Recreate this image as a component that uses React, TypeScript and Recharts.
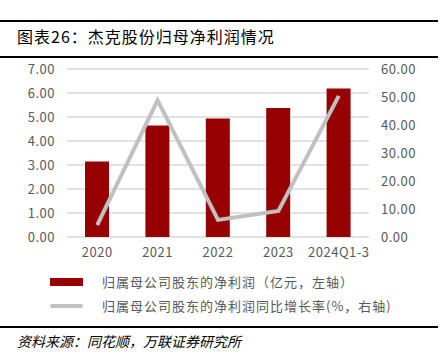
import React from 'react';
import { ComposedChart, Bar, Line, XAxis, YAxis, CartesianGrid } from 'recharts';

const categories = ['2020', '2021', '2022', '2023', '2024Q1-3'];
const netProfit = [3.15, 4.65, 4.94, 5.37, 6.19];
const yoyGrowth = [4.2, 48.8, 6.1, 9.3, 50.4];
const leftTicks = [0, 1, 2, 3, 4, 5, 6, 7];
const rightTicks = [0, 10, 20, 30, 40, 50, 60];

const data = categories.map((label, i) => ({
  label,
  profit: netProfit[i],
  yoy: yoyGrowth[i],
}));

const FONT = '"Noto Sans CJK SC", "Noto Sans", sans-serif';
const tickStyle = { fontSize: 13, fill: '#595959', fontFamily: FONT, letterSpacing: 0.5 };

export default function App() {
  return (
    <div
      style={{
        position: 'absolute',
        left: 0,
        top: 0,
        width: 446,
        height: 355,
        background: '#fff',
        fontFamily: FONT,
        overflow: 'hidden',
      }}
    >
      <div style={{ position: 'absolute', left: 0, top: 20, width: 438, height: 2, background: '#000' }} />
      <div style={{ position: 'absolute', left: 17, top: 24, fontSize: 16, letterSpacing: 1, color: '#000', lineHeight: '24px' }}>
        图表26：杰克股份归母净利润情况
      </div>
      <div style={{ position: 'absolute', left: 0, top: 56, width: 438, height: 2, background: '#000' }} />

      <div style={{ position: 'absolute', left: 0, top: 0 }}>
        <ComposedChart
          width={446}
          height={355}
          data={data}
          margin={{ top: 69, right: 25, bottom: 88, left: 15 }}
          barCategoryGap="10%"
        >
          <CartesianGrid vertical={false} stroke="#d9d9d9" strokeWidth={1.5} yAxisId="left" />
          <XAxis
            dataKey="label"
            axisLine={false}
            tickLine={false}
            tickMargin={5}
            height={30}
            tick={tickStyle}
            interval={0}
          />
          <YAxis
            yAxisId="left"
            domain={[0, 7]}
            ticks={leftTicks}
            width={52}
            axisLine={false}
            tickLine={false}
            tickMargin={6}
            tick={tickStyle}
            tickFormatter={(v: number) => v.toFixed(2)}
          />
          <YAxis
            yAxisId="right"
            orientation="right"
            domain={[0, 60]}
            ticks={rightTicks}
            width={52}
            axisLine={false}
            tickLine={false}
            tickMargin={6}
            tick={tickStyle}
            tickFormatter={(v: number) => v.toFixed(2)}
          />
          <Bar yAxisId="left" dataKey="profit" fill="#960000" barSize={24} isAnimationActive={false} />
          <Line
            yAxisId="right"
            dataKey="yoy"
            stroke="#c0c0c0"
            strokeWidth={4}
            dot={false}
            activeDot={false}
            type="linear"
            isAnimationActive={false}
          />
        </ComposedChart>
      </div>

      <div style={{ position: 'absolute', left: 50, top: 278, width: 33, height: 8, background: '#960000' }} />
      <div
        style={{ position: 'absolute', left: 102, top: 272, fontSize: 13, letterSpacing: 1, color: '#595959', lineHeight: '20px', whiteSpace: 'nowrap' }}
      >
        归属母公司股东的净利润（亿元，左轴）
      </div>
      <div style={{ position: 'absolute', left: 50, top: 304, width: 33, height: 4, borderRadius: 2, background: '#c0c0c0' }} />
      <div
        style={{ position: 'absolute', left: 102, top: 296, fontSize: 13, letterSpacing: 1, color: '#595959', lineHeight: '20px', whiteSpace: 'nowrap' }}
      >
        归属母公司股东的净利润同比增长率(%，右轴)
      </div>

      <div style={{ position: 'absolute', left: 0, top: 326, width: 438, height: 2, background: '#000' }} />
      <div
        style={{ position: 'absolute', left: 17, top: 331, fontSize: 14, fontStyle: 'italic', color: '#000', lineHeight: '20px', whiteSpace: 'nowrap' }}
      >
        资料来源：同花顺，万联证券研究所
      </div>
    </div>
  );
}
